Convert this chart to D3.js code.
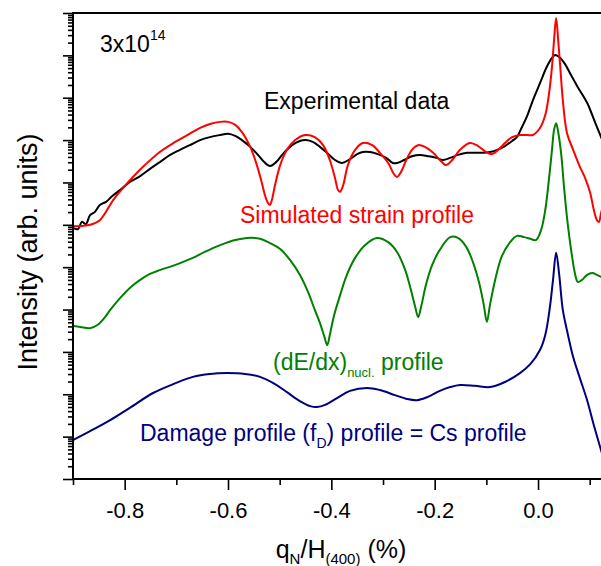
<!DOCTYPE html>
<html>
<head>
<meta charset="utf-8">
<script src="https://cdn.jsdelivr.net/npm/d3@7"></script>
<style>
  body { margin: 0; background: #fff; }
  svg { display: block; font-family: "Liberation Sans", Arial, sans-serif; }
</style>
</head>
<body>
<div id="chart"></div>
<script>
// q_N/H(400) in %, intensities stored as log10 (arb. units)
var qExp = [-0.900,-0.890,-0.883,-0.875,-0.867,-0.858,-0.848,-0.836,-0.824,-0.809,-0.790,-0.770,-0.751,-0.732,-0.712,-0.693,-0.674,-0.654,-0.635,-0.615,-0.600,-0.586,-0.573,-0.557,-0.542,-0.530,-0.519,-0.507,-0.494,-0.476,-0.461,-0.449,-0.435,-0.422,-0.406,-0.393,-0.379,-0.364,-0.350,-0.339,-0.325,-0.310,-0.294,-0.281,-0.273,-0.259,-0.244,-0.228,-0.213,-0.197,-0.184,-0.170,-0.155,-0.137,-0.122,-0.106,-0.093,-0.079,-0.064,-0.050,-0.041,-0.031,-0.021,-0.010,0.004,0.017,0.027,0.033,0.043,0.052,0.062,0.077,0.095,0.110,0.122,0.135];
var lgExp = [5.93,5.90,6.07,6.02,6.23,6.30,6.47,6.54,6.68,6.82,7.01,7.15,7.32,7.48,7.65,7.77,7.88,8.00,8.07,8.12,8.15,8.10,8.00,7.84,7.65,7.48,7.39,7.48,7.67,7.88,7.98,8.00,7.95,7.84,7.67,7.53,7.46,7.55,7.67,7.72,7.72,7.67,7.58,7.46,7.46,7.53,7.62,7.65,7.62,7.58,7.53,7.58,7.65,7.70,7.70,7.70,7.72,7.77,7.86,7.98,8.07,8.31,8.57,8.94,9.35,9.73,9.94,10.01,9.94,9.80,9.58,9.25,8.88,8.43,8.07,7.70];

var qStrain = [-0.900,-0.886,-0.867,-0.848,-0.822,-0.803,-0.784,-0.761,-0.732,-0.703,-0.674,-0.654,-0.635,-0.615,-0.600,-0.586,-0.573,-0.557,-0.546,-0.536,-0.528,-0.523,-0.519,-0.515,-0.509,-0.499,-0.486,-0.470,-0.451,-0.432,-0.416,-0.403,-0.393,-0.387,-0.383,-0.377,-0.368,-0.354,-0.339,-0.321,-0.306,-0.290,-0.279,-0.273,-0.265,-0.255,-0.244,-0.232,-0.219,-0.203,-0.190,-0.178,-0.166,-0.151,-0.132,-0.116,-0.101,-0.089,-0.077,-0.064,-0.050,-0.035,-0.021,-0.010,0.004,0.014,0.021,0.027,0.031,0.035,0.039,0.043,0.048,0.056,0.068,0.081,0.091,0.101,0.108,0.114,0.118,0.122,0.130];
var lgStrain = [5.97,5.97,6.00,6.11,6.59,6.87,7.13,7.41,7.72,7.95,8.15,8.29,8.38,8.43,8.43,8.36,8.19,7.84,7.48,7.06,6.68,6.52,6.47,6.59,6.94,7.41,7.77,8.00,8.12,8.07,7.88,7.53,7.11,6.82,6.78,6.94,7.41,7.77,7.93,7.88,7.70,7.46,7.20,7.13,7.25,7.53,7.77,7.88,7.84,7.70,7.53,7.41,7.53,7.77,7.93,7.86,7.72,7.67,7.77,7.93,8.07,8.12,8.12,8.12,8.29,8.59,9.07,9.73,10.36,10.88,10.36,9.73,8.94,8.17,7.77,7.37,7.11,6.75,6.35,6.11,6.07,6.28,6.60];

var qNucl = [-0.900,-0.886,-0.867,-0.852,-0.838,-0.828,-0.809,-0.790,-0.770,-0.751,-0.732,-0.703,-0.668,-0.645,-0.615,-0.586,-0.563,-0.538,-0.519,-0.499,-0.480,-0.461,-0.445,-0.432,-0.422,-0.414,-0.408,-0.403,-0.395,-0.383,-0.370,-0.354,-0.335,-0.312,-0.290,-0.273,-0.257,-0.246,-0.238,-0.232,-0.226,-0.217,-0.205,-0.190,-0.170,-0.155,-0.139,-0.126,-0.114,-0.105,-0.099,-0.093,-0.083,-0.070,-0.054,-0.041,-0.027,-0.015,-0.004,0.006,0.014,0.021,0.027,0.031,0.035,0.039,0.045,0.050,0.056,0.064,0.072,0.077,0.085,0.095,0.105,0.114,0.122,0.135];
var lgNucl = [3.61,3.59,3.56,3.64,3.82,3.99,4.27,4.51,4.70,4.84,4.93,5.05,5.22,5.36,5.52,5.64,5.69,5.67,5.57,5.43,5.17,4.82,4.41,3.99,3.68,3.38,3.16,3.40,3.85,4.34,4.82,5.22,5.52,5.69,5.59,5.36,4.93,4.46,4.08,3.82,4.08,4.58,5.05,5.41,5.71,5.69,5.48,5.12,4.63,4.11,3.71,4.11,4.70,5.26,5.59,5.74,5.71,5.67,5.64,5.88,6.35,7.06,7.77,8.24,8.40,8.19,7.65,6.94,6.18,5.41,4.82,4.65,4.70,4.82,4.86,4.82,4.77,4.70];

var qDamage = [-0.900,-0.867,-0.828,-0.790,-0.745,-0.706,-0.668,-0.635,-0.602,-0.567,-0.538,-0.509,-0.486,-0.461,-0.441,-0.428,-0.412,-0.389,-0.364,-0.331,-0.306,-0.277,-0.254,-0.234,-0.213,-0.190,-0.170,-0.151,-0.122,-0.093,-0.064,-0.035,-0.015,0.004,0.014,0.023,0.029,0.035,0.041,0.048,0.058,0.068,0.081,0.095,0.108,0.120,0.130];
var lgDamage = [0.92,1.13,1.39,1.68,2.03,2.24,2.41,2.48,2.50,2.48,2.41,2.24,2.05,1.84,1.72,1.70,1.75,1.91,2.08,2.15,2.10,1.98,1.89,1.86,1.94,2.08,2.17,2.22,2.20,2.17,2.29,2.50,2.71,3.05,3.40,4.06,4.70,5.34,4.82,3.99,3.40,2.88,2.38,1.86,1.27,0.76,0.35];

var xMajor = [-0.8, -0.6, -0.4, -0.2, 0.0];
var xMinor = [-0.9, -0.7, -0.5, -0.3, -0.1, 0.1];
var yDecades = d3.range(0, 12);   // 10^0 ... 10^11, no labels

var series = [
  { q: qExp,    lg: lgExp,    color: "#000000" },
  { q: qStrain, lg: lgStrain, color: "#ff0000" },
  { q: qNucl,   lg: lgNucl,   color: "#008000" },
  { q: qDamage, lg: lgDamage, color: "#000080" }
];

var W = 601, H = 566;
var padL = 73, padT = 13, padB = 479;

var svg = d3.select("#chart").append("svg")
    .attr("width", W).attr("height", H);

var x = d3.scaleLinear().domain([-0.9, 0.2]).range([padL, padL + 1.1 * 516.7]);
var y = d3.scaleLog().domain([1, 1e11]).range([padB, padT]);

svg.append("clipPath").attr("id", "plot")
  .append("rect")
  .attr("x", padL).attr("y", padT)
  .attr("width", x(0.2) - padL).attr("height", padB - padT);

// curves
var line = d3.line()
    .x(function(d) { return x(d[0]); })
    .y(function(d) { return y(Math.pow(10, d[1])); })
    .curve(d3.curveCatmullRom.alpha(0.5));

series.forEach(function(s) {
  var pts = s.q.map(function(q, i) { return [q, s.lg[i]]; });
  svg.append("path")
     .datum(pts)
     .attr("clip-path", "url(#plot)")
     .attr("fill", "none")
     .attr("stroke", s.color)
     .attr("stroke-width", 2)
     .attr("stroke-linejoin", "round")
     .attr("d", line);
});

// x axis: labelled major ticks + unlabelled minor ticks
var xAxis = svg.append("g")
   .attr("transform", "translate(0," + padB + ")")
   .call(d3.axisBottom(x).tickValues(xMajor).tickSize(11).tickPadding(12)
          .tickFormat(function(d) { return d.toFixed(1); }));
xAxis.selectAll("text").style("font-size", "22px").attr("fill", "#000");
xAxis.select(".domain").remove();

svg.append("g")
   .attr("transform", "translate(0," + padB + ")")
   .call(d3.axisBottom(x).tickValues(xMinor).tickSize(6).tickFormat(""))
   .select(".domain").remove();

// y axis: log, major ticks at decades, minor ticks 2..9
var yMinor = [];
yDecades.slice(0, -1).forEach(function(k) {
  for (var m = 2; m <= 9; m++) yMinor.push(m * Math.pow(10, k));
});
svg.append("g")
   .attr("transform", "translate(" + padL + ",0)")
   .call(d3.axisLeft(y).tickValues(yDecades.map(function(k) { return Math.pow(10, k); }))
          .tickSize(10).tickFormat(""))
   .select(".domain").remove();
svg.append("g")
   .attr("transform", "translate(" + padL + ",0)")
   .call(d3.axisLeft(y).tickValues(yMinor).tickSize(5).tickFormat(""))
   .select(".domain").remove();
svg.selectAll(".tick line").attr("stroke", "#000").attr("stroke-width", 1.6);

// frame lines
svg.append("line").attr("x1", padL).attr("x2", padL).attr("y1", padT - 1).attr("y2", padB + 1)
   .attr("stroke", "#000").attr("stroke-width", 2);
svg.append("line").attr("x1", padL - 1).attr("x2", W).attr("y1", padB).attr("y2", padB)
   .attr("stroke", "#000").attr("stroke-width", 2);
svg.append("line").attr("x1", padL - 1).attr("x2", W).attr("y1", padT).attr("y2", padT)
   .attr("stroke", "#000").attr("stroke-width", 2);

// annotations
var t = svg.append("text").attr("x", 100).attr("y", 52).style("font-size", "23px").text("3x10");
t.append("tspan").attr("dy", -12).style("font-size", "14px").text("14");

svg.append("text").attr("x", 264).attr("y", 109).style("font-size", "23px")
   .attr("fill", "#000").text("Experimental data");

svg.append("text").attr("x", 240).attr("y", 223).style("font-size", "23px")
   .attr("fill", "#ff0000").text("Simulated strain profile");

var n = svg.append("text").attr("x", 273).attr("y", 370).style("font-size", "23px")
   .attr("fill", "#008000").text("(dE/dx)");
n.append("tspan").attr("dy", 7).style("font-size", "13px").text("nucl.");
n.append("tspan").attr("dy", -7).text(" profile");

var dm = svg.append("text").attr("x", 140).attr("y", 441).style("font-size", "23px")
   .attr("fill", "#000080").text("Damage profile (f");
dm.append("tspan").attr("dy", 7).style("font-size", "14px").text("D");
dm.append("tspan").attr("dy", -7).text(") profile = Cs profile");

// axis titles
svg.append("text")
   .attr("transform", "translate(37,252) rotate(-90)")
   .attr("text-anchor", "middle")
   .style("font-size", "27px")
   .text("Intensity (arb. units)");

var xt = svg.append("text").attr("x", 341).attr("y", 558)
   .attr("text-anchor", "middle").style("font-size", "25px").text("q");
xt.append("tspan").attr("dy", 6).style("font-size", "15px").text("N");
xt.append("tspan").attr("dy", -6).text("/H");
xt.append("tspan").attr("dy", 6).style("font-size", "15px").text("(400)");
xt.append("tspan").attr("dy", -6).text(" (%)");
</script>
</body>
</html>
